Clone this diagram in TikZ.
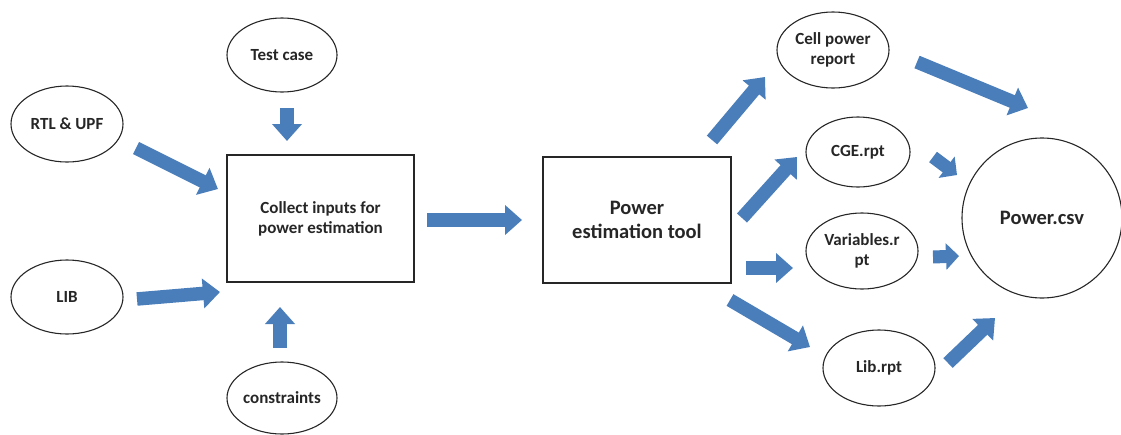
\documentclass[tikz,border=0pt]{standalone}
\usepackage{fontspec}
\setmainfont{Carlito}
\usetikzlibrary{shapes.geometric,arrows.meta}
\definecolor{flowblue}{HTML}{4A7EBB}
\tikzset{
  lbl/.style={font=\bfseries\fontsize{17}{20}\selectfont, align=center, text=black!85},
  oval/.style={lbl, draw=black!85, line width=1.1pt, ellipse, inner sep=0pt},
  stagebox/.style={draw=black!85, line width=1.1pt, rectangle, inner sep=0pt, align=center},
  flow/.style={draw=flowblue, line width=13.5pt, -{Triangle[length=17pt,width=29pt]}},
  smallflow/.style={draw=flowblue, line width=13pt, -{Triangle[length=13pt,width=26pt]}}
}
\begin{document}
\begin{tikzpicture}[x=1pt,y=-1pt]
\useasboundingbox (0,0) rectangle (1121,434);

% inputs
\node[oval, minimum width=110pt, minimum height=74pt] (test) at (282,55) {Test case};
\node[oval, minimum width=112pt, minimum height=76pt] (rtl) at (67,124) {RTL \& UPF};
\node[oval, minimum width=112pt, minimum height=74pt] (lib) at (67,297) {LIB};
\node[oval, minimum width=110pt, minimum height=72pt] (cons) at (282,398) {constraints};

% processing stages
\node[stagebox, lbl, minimum width=187pt, minimum height=127pt] (collect) at (320.5,218.5)
  {Collect inputs for\\power estimation};
\node[stagebox, minimum width=188pt, minimum height=126pt,
      font=\bfseries\fontsize{20.5}{24}\selectfont, text=black!85] (tool) at (637,220)
  {Power\\estimation tool};

% reports
\node[oval, minimum width=112pt, minimum height=76pt] (cell) at (833,50) {Cell power\\report};
\node[oval, minimum width=104pt, minimum height=70pt] (cge) at (858,152) {CGE.rpt};
\node[oval, minimum width=112pt, minimum height=76pt] (vars) at (862,251) {Variables.r\\pt};
\node[oval, minimum width=112pt, minimum height=76pt] (librpt) at (879,368) {Lib.rpt};

% result
\node[circle, draw=black!85, line width=1.1pt, minimum size=160pt, inner sep=0pt,
      font=\bfseries\fontsize{20.5}{24}\selectfont, text=black!85] (csv) at (1042,218) {Power.csv};

% arrow end points
\coordinate (test-out) at (287,108);   \coordinate (collect-top) at (287,141);
\coordinate (rtl-out) at (136,148);    \coordinate (collect-nw) at (218,189);
\coordinate (lib-out) at (137,299);    \coordinate (collect-w) at (220,292);
\coordinate (cons-out) at (280,348);   \coordinate (collect-bot) at (280,307);
\coordinate (collect-out) at (427,220); \coordinate (tool-in) at (522,220);
\coordinate (tool-ne) at (712,140);    \coordinate (cell-in) at (765,77);
\coordinate (tool-e1) at (742,218);    \coordinate (cge-in) at (797,157);
\coordinate (tool-e2) at (746,268);    \coordinate (vars-in) at (793,268);
\coordinate (tool-se) at (730,300);    \coordinate (librpt-in) at (810,347);
\coordinate (cell-out) at (917,62);    \coordinate (csv-nw) at (1028,108);
\coordinate (cge-out) at (933,157);    \coordinate (csv-w1) at (957,175);
\coordinate (vars-out) at (933,257);   \coordinate (csv-w2) at (959,256);
\coordinate (librpt-out) at (948,363); \coordinate (csv-sw) at (995,318);

% block arrows
\draw[flow] (test-out) -- (collect-top);
\draw[flow] (rtl-out) -- (collect-nw);
\draw[flow] (lib-out) -- (collect-w);
\draw[flow] (cons-out) -- (collect-bot);
\draw[flow] (collect-out) -- (tool-in);
\draw[flow] (tool-ne) -- (cell-in);
\draw[flow] (tool-e1) -- (cge-in);
\draw[flow] (tool-e2) -- (vars-in);
\draw[flow] (tool-se) -- (librpt-in);
\draw[flow] (cell-out) -- (csv-nw);
\draw[smallflow] (cge-out) -- (csv-w1);
\draw[smallflow] (vars-out) -- (csv-w2);
\draw[flow] (librpt-out) -- (csv-sw);
\end{tikzpicture}
\end{document}
